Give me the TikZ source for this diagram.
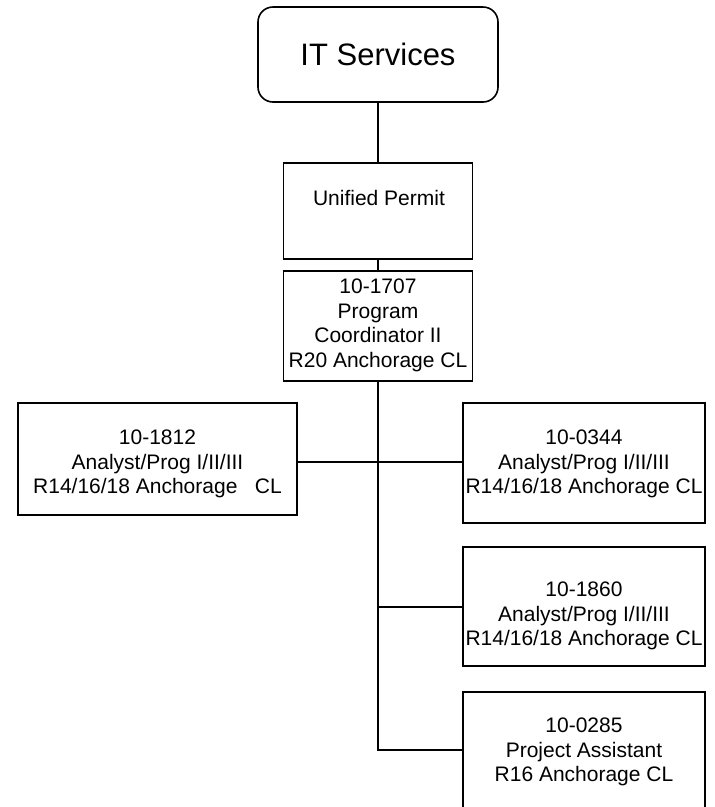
\documentclass[tikz,border=0pt]{standalone}
\usepackage{fontspec}
\setmainfont{Liberation Sans}
\begin{document}
\begin{tikzpicture}[x=1pt,y=-1pt,
  box/.style={draw=black, line width=1.6pt, rectangle, inner sep=0pt},
  txt/.style={inner sep=0pt, align=center, font=\fontsize{21}{24.5}\selectfont},
  big/.style={inner sep=0pt, font=\fontsize{31}{36}\selectfont},
  link/.style={draw=black, line width=1.6pt}]
\clip (0,0) rectangle (715,807);
\fill[white] (0,0) rectangle (715,807);
% boxes
\node[box, rounded corners=15pt, minimum width=240pt, minimum height=95pt] (it) at (378,54.5) {};
\node[box, minimum width=189pt, minimum height=96pt] (up) at (378,211) {};
\node[box, minimum width=189pt, minimum height=110pt] (pc) at (378,326) {};
\node[box, minimum width=279pt, minimum height=112pt] (l1) at (157.5,459) {};
\node[box, minimum width=242pt, minimum height=120pt] (r1) at (584,463) {};
\node[box, minimum width=242pt, minimum height=119pt] (r2) at (584,606.5) {};
\node[box, minimum width=242pt, minimum height=120pt] (r3) at (584,752) {};
% texts
\node[big, anchor=base] (itt) at (378,65) {IT Services};
\node[txt, anchor=base] (upt) at (379,205) {Unified Permit};
\node[txt, anchor=north] (pct) at (378,279) {10-1707\\Program\\Coordinator II\\R20 Anchorage CL};
\node[txt, anchor=north] (l1t) at (157.5,430) {10-1812\\ Analyst/Prog I/II/III\\R14/16/18 Anchorage\ \ \ CL};
\node[txt, anchor=north] (r1t) at (584,430) {10-0344\\Analyst/Prog I/II/III\\R14/16/18 Anchorage CL};
\node[txt, anchor=north] (r2t) at (584,582) {10-1860\\Analyst/Prog I/II/III\\R14/16/18 Anchorage CL};
\node[txt, anchor=north] (r3t) at (584,718) {10-0285\\ Project Assistant\\R16 Anchorage CL};
% connectors
\coordinate (j1) at (378,462);
\coordinate (j2) at (378,607);
\coordinate (j3) at (378,750);
\draw[link] (it.south) -- (up.north);
\draw[link] (up.south) -- (pc.north);
\draw[link] (pc.south) -- (j3) -- (r3.west |- j3);
\draw[link] (l1.east |- j1) -- (r1.west |- j1);
\draw[link] (j2) -- (r2.west |- j2);
\end{tikzpicture}
\end{document}
